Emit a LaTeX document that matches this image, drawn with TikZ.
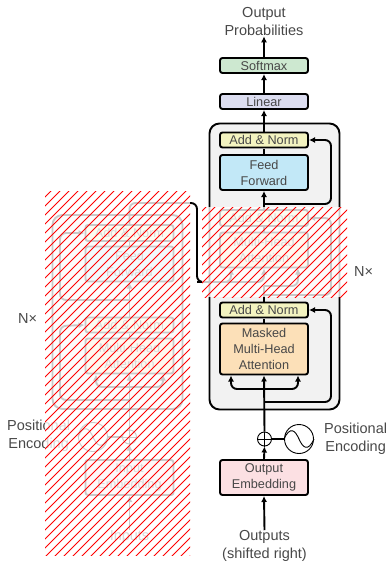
\documentclass[tikz,border=0pt]{standalone}
\usepackage{fontspec}
\setmainfont{Liberation Sans}
\usetikzlibrary{arrows.meta,calc}
\definecolor{cadd}{HTML}{F3F3C0}
\definecolor{cff}{HTML}{C2E8F7}
\definecolor{cmha}{HTML}{FCE0B8}
\definecolor{cemb}{HTML}{FCE0E3}
\definecolor{clin}{HTML}{DCDDF0}
\definecolor{csoft}{HTML}{CDE8D0}
\definecolor{cblock}{HTML}{F2F2F2}
\definecolor{ctxt}{HTML}{484848}
\tikzset{
 every node/.style={text=ctxt,font=\fontsize{12.7}{16}\selectfont,align=center,inner sep=0pt},
 boxs/.style={draw=black,line width=1.9pt,rounded corners=2.5pt,minimum width=88pt,outer sep=1pt},
 thinbox/.style={boxs,minimum height=15pt},
 tallbox/.style={boxs,minimum height=35pt},
 blockbox/.style={draw=black,line width=1.9pt,rounded corners=10pt,fill=cblock,minimum width=130pt,outer sep=1pt},
 lab/.style={font=\fontsize{14.5}{18}\selectfont},
 conn/.style={draw=black,line width=1.9pt,-{Latex[length=6pt,width=6pt]}},
 wire/.style={draw=black,line width=1.9pt},
 curve/.style={conn,rounded corners=6pt},
 sumcirc/.style={circle,draw=black,line width=.9pt,minimum size=14pt,outer sep=.5pt},
 sinecirc/.style={circle,draw=black,line width=.9pt,minimum size=29pt,outer sep=.5pt},
 hatchline/.style={draw=red,line width=.9pt},
 veil/.style={fill=white,fill opacity=.79},
}
\begin{document}
\begin{tikzpicture}[x=1pt,y=-1pt]
\useasboundingbox (0,0) rectangle (388,563);
% ---------- decoder ----------
\node[blockbox,minimum height=286pt] (dblock) at (274.5,266.5) {};
\node[lab] (outprob) at (264,22) {Output\\Probabilities};
\node[thinbox,fill=csoft] (soft) at (264,65.5) {Softmax};
\node[thinbox,fill=clin] (lin) at (264,101.5) {Linear};
\node[thinbox,fill=cadd] (dan3) at (264,140) {Add \& Norm};
\node[tallbox,fill=cff] (dff) at (264,172.5) {Feed\\Forward};
\node[thinbox,fill=cadd,minimum height=16pt] (dan2) at (264,218) {Add \& Norm};
\node[tallbox,fill=cmha] (dmha) at (264,250) {Multi-Head\\Attention};
\node[thinbox,fill=cadd] (dan1) at (264,310) {Add \& Norm};
\node[boxs,fill=cmha,minimum height=51pt] (dmmha) at (264,349) {Masked\\Multi-Head\\Attention};
\node[sumcirc] (dsum) at (264.5,439) {};
\node[sinecirc] (dsine) at (299,439) {};
\node[tallbox,fill=cemb] (demb) at (264,477.5) {Output\\Embedding};
\node[lab] (outs) at (264.5,546) {Outputs\\(shifted right)};
\node[lab,anchor=west] (dpos) at (324,438.5) {Positional\\Encoding};
\node[lab,anchor=west] (nxr) at (354,272) {N×};
\draw[conn] (soft.north) -- (outprob.south);
\draw[conn] (lin.north) -- (soft.south);
\draw[conn] (dan3.north) -- (lin.south);
\draw[wire] (dff.north) -- (dan3.south);
\draw[conn] (dan2.north) -- (dff.south);
\draw[wire] (dmha.north) -- (dan2.south);
\coordinate (dc) at (264,286);
\draw[wire] (dan1.north) -- (dc);
\draw[wire] (dmmha.north) -- (dan1.south);
\draw[conn] (dsum.north) -- (dmmha.south);
\draw[conn] (demb.north) -- (dsum.south);
\draw[conn] (outs.north) -- (demb.south);
\draw[wire,line width=1.5pt] (dsum.east) -- (dsine.west);
\draw[wire,line width=.9pt] (dsum.north) -- (dsum.south) (dsum.west) -- (dsum.east);
\draw[line width=.9pt] (dsine.west) .. controls ($(dsine.center)+(-9,-13)$) and ($(dsine.center)+(-4,-9)$) .. (dsine.center) .. controls ($(dsine.center)+(4,9)$) and ($(dsine.center)+(9,13)$) .. (dsine.east);
\coordinate (dn3) at (264,204); \coordinate (dn1) at (264,402); \coordinate (dn2) at (264,295);
\draw[curve] (dn3) -| (331,140) -- (dan3.east);
\draw[curve] (dn2) -| (331,218) -- (dan2.east);
\draw[curve] (dn1) -| (331,310) -- (dan1.east);
\coordinate (dk) at (264,389);
\draw[curve] (dk) -| (231,375 |- dmmha.south);
\draw[curve] (dk) -| (298,375 |- dmmha.south);
\draw[curve] (dc) -| (298,268 |- dmha.south);
% ---------- encoder ----------
\node[blockbox,minimum height=194pt] (eblock) at (117.5,312) {};
\node[thinbox,fill=cadd,minimum height=16pt] (ean2) at (129.5,233) {Add \& Norm};
\node[tallbox,fill=cff] (eff) at (129.5,264) {Feed\\Forward};
\node[thinbox,fill=cadd] (ean1) at (129.5,325) {Add \& Norm};
\node[tallbox,fill=cmha] (emha) at (129.5,356) {Multi-Head\\Attention};
\node[sumcirc] (esum) at (129.5,437) {};
\node[sinecirc] (esine) at (93,437) {};
\node[tallbox,fill=cemb] (eemb) at (129.5,477.5) {Input\\Embedding};
\node[lab] (ins) at (129.5,537) {Inputs};
\node[lab,anchor=west] (epos) at (7,436) {Positional\\Encoding};
\node[lab,anchor=west] (nxl) at (18,319) {N×};
\draw[conn] (ean1.north) -- (eff.south);
\draw[wire] (eff.north) -- (ean2.south);
\draw[wire] (emha.north) -- (ean1.south);
\draw[conn] (esum.north) -- (emha.south);
\draw[conn] (eemb.north) -- (esum.south);
\draw[conn] (ins.north) -- (eemb.south);
\draw[wire,line width=1.5pt] (esine.east) -- (esum.west);
\draw[wire,line width=.9pt] (esum.north) -- (esum.south) (esum.west) -- (esum.east);
\draw[line width=.9pt] (esine.west) .. controls ($(esine.center)+(-9,-13)$) and ($(esine.center)+(-4,-9)$) .. (esine.center) .. controls ($(esine.center)+(4,9)$) and ($(esine.center)+(9,13)$) .. (esine.east);
\coordinate (en2) at (129.5,300); \coordinate (en1) at (129.5,400); \coordinate (ek) at (129.5,387);
\draw[curve] (en2) -| (60,233) -- (ean2.west);
\draw[curve] (en1) -| (60,326) -- (ean1.west);
\draw[curve] (ek) -| (96,374 |- emha.south);
\draw[curve] (ek) -| (163,374 |- emha.south);
\coordinate (xa) at (197,282);
\draw[curve] (ean2.north) |- (197,203) -- (xa) -| (231,268 |- dmha.south);
\draw[curve] (xa) -| (dmha.south);
% ---------- hatched panels ----------
\fill[veil] (45,191) rectangle (190,555);
\fill[veil] (202,207) rectangle (347,297);
\begin{scope}
\clip (45,191) rectangle (190,555);
\foreach \c in {242,251,...,746} \draw[hatchline] (\c-600,600) -- (\c,0);
\end{scope}
\begin{scope}
\clip (202,207) rectangle (347,297);
\foreach \c in {413,422,...,647} \draw[hatchline] (\c-600,600) -- (\c,0);
\end{scope}
\end{tikzpicture}
\end{document}
